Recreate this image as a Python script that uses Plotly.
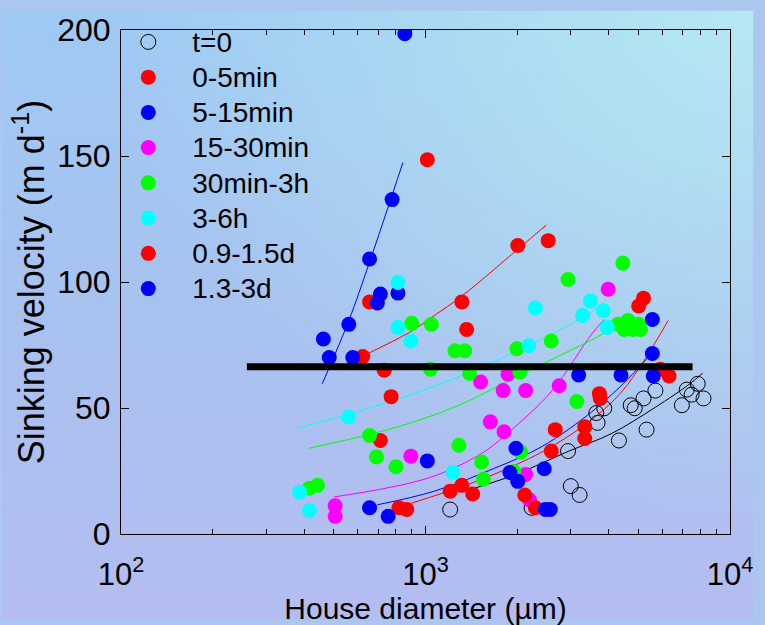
import base64
import plotly.graph_objects as go

# ---------------- data (house diameter in µm, sinking velocity in m/d) ----------------
t0_x = [1205, 2230, 2938, 3000, 3206, 3639, 3673, 3864, 4318, 4721, 4864, 5200, 5321, 5689, 6950, 7211, 7482, 7834, 8185]
t0_y = [9.7, 10.4, 32.9, 19.0, 15.5, 48.0, 44.1, 49.9, 37.1, 51.1, 49.9, 53.8, 41.4, 56.9, 51.1, 57.3, 55.3, 59.6, 53.8]

m0_5_x = [1014, 2009, 2529, 655, 1316, 1365, 622, 732, 771, 711]
m0_5_y = [148.5, 114.5, 116.4, 92.1, 92.1, 81.2, 70.4, 65.0, 54.5, 37.1]

m5_15_x = [855, 777, 655, 711, 695, 812, 560, 462, 483, 577]
m5_15_y = [198.5, 132.7, 109.1, 95.2, 91.7, 95.6, 83.2, 77.4, 70.0, 70.0]

m15_30_x = [3981, 1517, 1866, 1799, 2133, 2748, 1633, 1811, 895, 2133, 2198, 505, 505]
m15_30_y = [97.1, 60.3, 63.4, 56.9, 56.9, 58.8, 44.5, 40.6, 30.9, 23.6, 13.5, 11.2, 7.0]

m30_3h_x = [2938, 4446, 901, 1045, 1250, 1346, 1995, 2588, 1038, 1396, 2042, 3141, 655, 1288,
            2056, 690, 800, 1528, 1950, 1549, 416, 442, 4290, 4624, 4797, 5012, 5082, 4487]
m30_3h_y = [101.0, 107.5, 83.6, 83.2, 72.7, 72.7, 73.5, 76.6, 65.4, 63.8, 64.2, 52.6, 39.1, 35.2,
            32.5, 30.6, 26.7, 28.6, 24.8, 21.7, 18.2, 19.3, 83.2, 84.7, 81.2, 83.2, 81.2, 81.2]

h3_6_x = [812, 812, 895, 2296, 3483, 3281, 3837, 3954, 2182, 560, 1231, 386, 416]
h3_6_y = [99.8, 82.0, 76.6, 89.7, 92.5, 86.7, 88.6, 82.0, 74.7, 46.4, 24.4, 16.6, 9.3]

d09_15_x = [818, 868, 1205, 1316, 1429, 2118, 2296, 2588, 2667, 3334, 3334, 3724, 3750, 5012, 5200, 5902, 6310]
d09_15_y = [10.4, 9.7, 17.0, 19.3, 15.9, 15.5, 10.4, 32.9, 41.4, 42.6, 37.9, 55.7, 53.8, 90.5, 93.6, 65.4, 62.7]

d13_3_x = [1014, 655, 754, 1982, 1893, 2009, 2455, 2477, 2570, 3184, 4385, 5559, 5559, 5598]
d13_3_y = [29.0, 10.4, 7.0, 34.0, 24.4, 20.9, 25.9, 9.7, 9.7, 63.1, 63.1, 85.1, 71.6, 62.7]

# fitted curves
fit_t0_x = [1416, 1936, 2421, 2958, 4074, 5689, 7379, 8128]
fit_t0_y = [17.8, 23.2, 28.2, 32.9, 39.8, 50.3, 59.6, 63.8]
fit_m0_5_x = [636, 888, 1069, 1316, 2009, 2493]
fit_m0_5_y = [71.2, 80.1, 86.7, 94.4, 113.0, 122.6]
fit_m5_15_x = [458, 560, 655, 843]
fit_m5_15_y = [59.6, 84.7, 107.9, 147.4]
fit_m15_30_x = [501, 1014, 1517, 1840, 2606, 3509, 3864]
fit_m15_30_y = [14.7, 22.1, 31.7, 39.5, 56.9, 79.3, 85.1]
fit_m30_3h_x = [413, 794, 1288, 2042, 3509, 3864]
fit_m30_3h_y = [34.0, 42.2, 51.1, 63.1, 77.0, 79.7]
fit_h3_6_x = [384, 560, 855, 1306, 2182, 3483, 3925]
fit_h3_6_y = [42.2, 47.6, 54.5, 62.7, 74.7, 87.8, 92.8]
fit_d09_15_x = [888, 1439, 2042, 2606, 3509, 4385, 5200, 6266]
fit_d09_15_y = [12.0, 20.5, 28.2, 34.8, 45.3, 56.1, 68.5, 84.7]
fit_d13_3_x = [695, 1069, 1670, 2421, 3509, 4385, 5598]
fit_d13_3_y = [11.6, 17.0, 25.9, 34.8, 48.4, 58.8, 72.3]

threshold_x = [259, 7535]
threshold_y = [66.4, 66.4]

names = ["t=0", "0-5min", "5-15min", "15-30min", "30min-3h", "3-6h", "0.9-1.5d", "1.3-3d"]
colors = ["black", "#ff0000", "#0000ff", "#ff00ff", "#00ff00", "#00ffff", "#ff0000", "#0000ff"]
pts_x = [t0_x, m0_5_x, m5_15_x, m15_30_x, m30_3h_x, h3_6_x, d09_15_x, d13_3_x]
pts_y = [t0_y, m0_5_y, m5_15_y, m15_30_y, m30_3h_y, h3_6_y, d09_15_y, d13_3_y]
fits_x = [fit_t0_x, fit_m0_5_x, fit_m5_15_x, fit_m15_30_x, fit_m30_3h_x, fit_h3_6_x, fit_d09_15_x, fit_d13_3_x]
fits_y = [fit_t0_y, fit_m0_5_y, fit_m5_15_y, fit_m15_30_y, fit_m30_3h_y, fit_h3_6_y, fit_d09_15_y, fit_d13_3_y]

FONT = "Liberation Sans, Arial, Helvetica, sans-serif"

fig = go.Figure()

# fitted lines
for fx, fy, c in zip(fits_x, fits_y, colors):
    fig.add_trace(go.Scatter(x=fx, y=fy, mode="lines", line=dict(color=c, width=1, shape="spline"),
                             showlegend=False, hoverinfo="skip"))

# points
for i, (n, c, px, py) in enumerate(zip(names, colors, pts_x, pts_y)):
    if i == 0:
        marker = dict(symbol="circle-open", size=15, color="black", line=dict(width=1, color="black"))
    else:
        marker = dict(symbol="circle", size=15, color=c, line=dict(width=0))
    fig.add_trace(go.Scatter(x=px, y=py, mode="markers",
                             name='<span style="font-size:28px">' + n + '</span>', marker=marker))

# thick horizontal reference line
fig.add_trace(go.Scatter(x=threshold_x, y=threshold_y, mode="lines", line=dict(color="black", width=7),
                         showlegend=False, hoverinfo="skip"))

# gradient background
svg = """<svg xmlns="http://www.w3.org/2000/svg" width="765" height="625" viewBox="0 0 765 625" preserveAspectRatio="none">
<defs>
<linearGradient id="g" x1="0" y1="0" x2="0" y2="1">
<stop offset="0" stop-color="#9ecaf3"/>
<stop offset="0.55" stop-color="#a9c1ef"/>
<stop offset="1" stop-color="#b4bdf1"/>
</linearGradient>
<radialGradient id="r" cx="1" cy="0" r="0.85">
<stop offset="0" stop-color="#b6eaf2" stop-opacity="0.95"/>
<stop offset="1" stop-color="#b6eaf2" stop-opacity="0"/>
</radialGradient>
</defs>
<rect width="765" height="625" fill="url(#g)"/>
<rect width="765" height="625" fill="url(#r)"/>
</svg>"""
src = "data:image/svg+xml;base64," + base64.b64encode(svg.encode()).decode()

L, R, T, B = 121, 24, 20, 88
W, H = 765, 625
pw, ph = W - L - R, H - T - B

fig.update_layout(
    width=W, height=H,
    margin=dict(l=L, r=R, t=T, b=B, pad=0),
    paper_bgcolor="#abc6ef",
    plot_bgcolor="white",
    font=dict(family=FONT, color="black", size=30),
    images=[dict(source=src, xref="paper", yref="paper", x=-L / pw, y=1 + T / ph,
                 sizex=W / pw, sizey=H / ph, xanchor="left", yanchor="top",
                 sizing="stretch", layer="below")],
    legend=dict(x=-17 / pw, y=1 + 11 / ph, xanchor="left", yanchor="top", bgcolor="rgba(0,0,0,0)",
                font=dict(size=24.8, family=FONT, color="black"), itemwidth=78,
                tracegroupgap=0),
    showlegend=True,
)

fig.update_xaxes(
    type="log", range=[2, 4],
    tickvals=[100, 1000, 10000], ticktext=["10<sup>2</sup>", "10<sup>3</sup>", "10<sup>4</sup>"],
    ticks="inside", ticklen=8, tickwidth=1, tickcolor="black",
    minor=dict(ticks="inside", ticklen=5, tickcolor="black", dtick="D1", showgrid=False),
    showline=True, linecolor="black", linewidth=1, mirror="ticks",
    showgrid=False, zeroline=False,
    tickfont=dict(size=31, family=FONT), ticklabelstandoff=13,
    title=dict(text="House diameter (µm)", font=dict(size=30, family=FONT), standoff=0),
)
fig.update_yaxes(
    range=[0, 200], tickvals=[0, 50, 100, 150, 200],
    ticks="inside", ticklen=8, tickwidth=1, tickcolor="black",
    showline=True, linecolor="black", linewidth=1, mirror="ticks",
    showgrid=False, zeroline=False,
    tickfont=dict(size=32, family=FONT), ticklabelstandoff=3,
    title=dict(text="Sinking velocity (m d<sup>-1</sup>)", font=dict(size=36, family=FONT), standoff=1),
)

fig.write_html("out.html")
